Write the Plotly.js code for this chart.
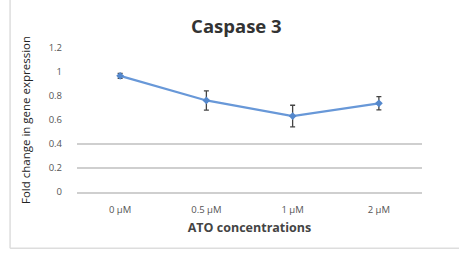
<!DOCTYPE html>
<html>
<head>
<meta charset="utf-8">
<script src="https://cdn.plot.ly/plotly-3.0.1.min.js"></script>
<style>html,body{margin:0;padding:0;background:#fff;}#chart{width:459px;height:253px;}</style>
</head>
<body>
<div id="chart"></div>
<script>
const categories = ["0 µM", "0.5 µM", "1 µM", "2 µM"];
const foldChange = [0.968, 0.763, 0.633, 0.739];
const errorValues = [0.02, 0.08, 0.09, 0.055];
const yTickVals = [0, 0.2, 0.4, 0.6, 0.8, 1, 1.2];
const yTickText = ["0", "0.2", "0.4", "0.6", "0.8", "1", "1.2"];
const gridVals = [0.2, 0.4, 1.2];

const trace = {
  x: categories,
  y: foldChange,
  type: "scatter",
  mode: "lines+markers",
  line: {color: "#6898d8", width: 2.2},
  marker: {color: "#5588cc", size: 6, symbol: "diamond"},
  error_y: {type: "data", array: errorValues, visible: true, color: "#444", thickness: 1.3, width: 2.5},
  showlegend: false,
  hoverinfo: "none"
};
const gridTrace = {x: categories, y: foldChange, yaxis: "y2", type: "scatter", mode: "none", showlegend: false, hoverinfo: "none"};

const layout = {
  width: 459, height: 253,
  margin: {l: 77, r: 37, t: 48, b: 61},
  paper_bgcolor: "#fff", plot_bgcolor: "rgba(0,0,0,0)",
  title: {text: "<b>Caspase 3</b>", font: {family: "Open Sans, Liberation Sans, sans-serif", size: 18.5, color: "#333"}, x: 0.515, xanchor: "center", y: 0.895, yanchor: "middle"},
  font: {family: "Open Sans, Liberation Sans, sans-serif", color: "#555"},
  xaxis: {
    type: "category", range: [-0.5, 3.5], showgrid: false, zeroline: false,
    showline: true, linecolor: "#cfcfcf", linewidth: 1.5, ticks: "",
    tickfont: {size: 9.5, color: "#555"}, ticklabelstandoff: 8,
    title: {text: "<b>ATO concentrations</b>", font: {size: 12.5, color: "#444"}, standoff: 8}
  },
  yaxis: {
    range: [0, 1.2], tickvals: yTickVals, ticktext: yTickText, showgrid: false, zeroline: false,
    showline: false, ticks: "", tickfont: {size: 9.5, color: "#555"}, ticklabelstandoff: 14,
    title: {text: "Fold change in gene expression", font: {size: 11.5, color: "#222"}, standoff: 15}
  },
  yaxis2: {
    overlaying: "y", range: [0, 1.2], tickvals: gridVals, showticklabels: false, showgrid: true,
    gridcolor: "#cfcfcf", gridwidth: 1.5, zeroline: false, showline: false, ticks: ""
  },
  shapes: [
    {type: "line", xref: "paper", yref: "paper", x0: -0.194, x1: -0.194, y0: -0.39, y1: 1.4, line: {color: "#ddd", width: 1.5}},
    {type: "line", xref: "paper", yref: "paper", x0: -0.194, x1: 1.11, y0: -0.39, y1: -0.39, line: {color: "#ddd", width: 1.5}}
  ]
};
Plotly.newPlot("chart", [gridTrace, trace], layout, {displayModeBar: false, staticPlot: true});
</script>
</body>
</html>
